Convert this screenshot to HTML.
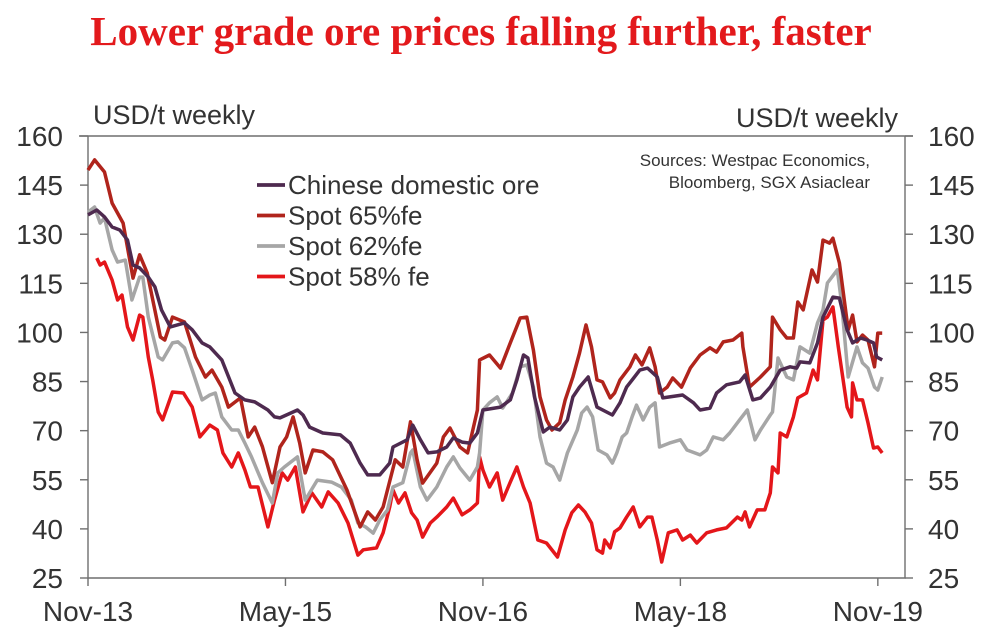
<!DOCTYPE html>
<html><head><meta charset="utf-8"><style>
html,body{margin:0;padding:0;background:#fff;}
svg{display:block;font-family:"Liberation Sans",Arial,sans-serif;}
</style></head><body>
<svg id="chart" width="982" height="644" viewBox="0 0 982 644">
<text x="481" y="45" text-anchor="middle" font-family="Liberation Serif,serif" font-weight="bold" font-size="41" fill="#E3191C">Lower grade ore prices falling further, faster</text>
<text x="93" y="124" font-size="27" fill="#333">USD/t weekly</text>
<text x="898" y="127" text-anchor="end" font-size="27" fill="#333">USD/t weekly</text>
<text x="870" y="166" text-anchor="end" font-size="17" fill="#333">Sources: Westpac Economics,</text>
<text x="870" y="188" text-anchor="end" font-size="17" fill="#333">Bloomberg, SGX Asiaclear</text>
<g id="axes"></g>
<g id="series"></g>
<g id="legend"></g>
</svg>
<script>
const yTicks=[160,145,130,115,100,85,70,55,40,25];
const xTickMonths=[0,18,36,54,72];
const xTickLabels=["Nov-13","May-15","Nov-16","May-18","Nov-19"];
const seriesNames=["Chinese domestic ore","Spot 65%fe","Spot 62%fe","Spot 58% fe"];
const seriesColors=["#4E2A4F","#B0241C","#A6A6A6","#E4161A"];
// months since Nov-13
const chineseMonths=[0,.8,1.5,2.2,2.9,3.6,4.1,4.7,5.5,6.1,6.7,7.5,8.8,9.5,10.4,11.1,12.2,13.4,14.3,15.2,16.4,17.0,17.5,19.1,19.6,20.2,21.4,23.0,23.9,24.8,25.5,26.6,27.5,27.8,29.1,29.6,30.3,31.0,31.8,32.7,33.3,34.1,34.8,35.5,36.0,37.6,38.5,39.1,39.7,40.1,40.7,41.5,42.1,43.0,43.7,44.2,44.8,45.6,46.4,47.8,48.5,49.1,50.3,51.0,51.9,52.4,54.2,55.2,55.8,56.7,57.3,58.2,59.4,59.9,60.6,61.3,62.2,63.1,64.0,64.6,64.9,65.8,66.5,67.0,67.9,68.5,69.2,69.7,70.4,71.0,71.6,71.9,72.4];
const chineseValues=[135.9,137.4,135.3,132.2,131.3,128.2,120.6,119.7,116.9,113.9,106.9,101.7,102.9,100.8,96.8,95.6,91.6,81.5,79.4,78.8,76.3,74.2,73.9,76.3,74.8,71.1,69.3,68.7,66.2,60.1,56.5,56.5,60.1,65,67.2,71.7,67.2,63.2,63.5,65,67.8,66.5,66.2,69.3,76.3,77.2,79.4,85.5,93.1,92.2,80.3,69.6,71.1,70.2,73.3,80.3,83.3,86.4,77.2,74.8,78.5,83.3,88.5,89.1,86.4,80,80.9,78.5,76.3,76.9,81.5,84,84.9,87,79.4,80,83.3,88.5,89.5,89.1,91,90.7,96.8,104.7,110.8,110.5,100.8,96.8,98.3,97.7,96.8,92.5,91.6];
const spot65Months=[0,.6,1.5,2.2,3.2,4.1,4.7,5.4,6.6,7.0,7.7,8.8,9.8,10.7,11.3,12.2,12.8,13.9,14.6,15.2,15.9,16.8,17.5,18.1,18.7,19.3,19.8,20.5,21.4,22.3,23.6,24.8,25.5,26.2,26.9,28.0,28.7,29.4,30.0,30.5,31.8,32.4,33.0,33.9,34.6,35.5,35.7,36.6,37.6,38.5,39.4,40.0,40.6,41.2,41.8,42.3,43.0,43.5,44.2,44.8,45.4,45.9,46.4,46.9,47.6,48.0,48.5,49.4,49.9,50.5,51.2,51.7,52.1,52.8,53.3,54.1,54.9,55.8,56.7,57.3,57.9,58.8,59.6,59.7,60.3,61.3,62.2,62.4,63.1,63.7,64.3,64.7,65.2,66.0,66.5,67.0,67.6,67.9,68.5,69.3,69.7,70.1,70.6,71.1,71.7,72.0,72.4];
const spot65Values=[149.6,152.7,149,139.5,133.4,116.6,123.7,118.2,98.6,97.7,104.7,103.2,92.5,86.4,88.5,83.3,77.2,80,68.1,71.1,65.1,54.1,65,68.1,74.2,66.2,57.1,64.1,63.5,61.1,51.9,40.6,45.2,42.7,46.7,61.1,58.9,72.7,61.1,54,60.1,68.1,70.8,65,63.2,76.3,91.6,93.1,89.1,96.8,104.4,104.7,94.6,80.3,73.3,70.2,72.4,79.4,86.4,93.7,102.3,95.6,85.5,84.9,80,81.5,85.5,89.5,93.1,90.1,95.3,89.5,81.5,83.3,86.1,83.3,89.1,93.1,95.3,94,97.1,97.7,99.8,95.6,83.3,86.4,89.5,104.7,100.8,98.3,98.3,109.3,106.9,119.1,115.4,128.2,127.3,128.8,121.2,100.8,105.3,97.1,99.2,97.7,89.5,99.8,99.8];
const spot62Months=[0,.6,1.1,1.5,2.2,2.7,3.4,4.0,4.7,5.0,5.5,6.4,6.8,7.7,8.2,8.8,9.5,10.4,11.1,11.6,12.2,13.1,13.7,14.3,14.9,15.9,16.8,17.3,17.9,19.1,19.8,20.9,22.2,23.1,24.0,24.6,25.3,26.0,26.6,27.3,27.8,28.7,29.4,29.6,30.3,30.9,31.8,32.7,33.3,33.9,34.8,35.5,35.7,36.0,36.6,37.3,37.8,38.7,39.4,40.0,40.6,41.2,41.8,42.4,43.0,43.7,44.6,45.0,45.5,46.0,46.5,47.3,47.8,48.2,48.7,49.1,49.6,50.0,50.6,51.2,51.7,52.1,53.0,54.0,54.6,55.8,56.4,57.0,57.9,58.5,59.4,60.1,60.8,61.3,62.2,62.4,62.9,63.7,64.3,64.9,65.8,66.5,67.0,67.4,68.3,68.7,69.3,70.1,70.6,71.1,71.7,72.0,72.4];
const spot62Values=[136.8,138.3,133.4,135,125.2,121.5,122.1,109.9,116.9,116.9,104.7,92.5,91.6,96.8,97.1,95.3,88.5,79.4,80.9,81.5,74.2,70.2,70.2,66.2,62,54.1,47.9,57.1,58.9,62,48.8,54.9,54.3,52.8,48.8,41.8,40.6,38.7,42.7,45.8,52.8,54.1,63.2,64.1,52.8,48.8,52.8,58.9,62,58.6,54.9,58.9,63.2,76.3,78.5,80.3,76.9,81.5,89.5,90.1,83.3,68.1,60.1,58.9,54.9,63.2,70.2,75.4,77.2,74.2,64.1,62.6,60.1,63.2,68.1,69.3,74.2,77.8,73.3,77.2,78.5,65,66.2,67.2,64.1,62.6,64.1,68.1,67.2,69.3,73.3,76.3,67.2,70.2,74.8,75.7,92.2,86.4,85.5,95.6,93.7,102.9,106.9,115.1,119.1,109,86.4,95.6,90.7,89.1,83.3,82.4,86.4];
const spot58Months=[.8,1.1,1.5,2.2,2.7,3.1,3.6,4.1,4.7,5.0,5.5,5.9,6.4,6.8,7.7,8.7,9.5,10.2,11.1,11.8,12.3,13.1,13.7,14.3,14.8,15.5,16.4,17.0,17.7,18.2,18.9,19.6,20.4,21.3,21.9,22.8,23.7,24.6,25.1,26.3,26.9,27.5,27.8,28.3,28.9,29.5,30.0,30.5,31.2,31.8,32.7,33.3,34.1,34.8,35.5,35.7,36.0,36.6,37.3,37.8,38.5,39.1,39.7,40.3,41.0,41.8,42.8,43.5,44.1,44.7,45.3,45.9,46.4,46.9,47.1,47.6,48.0,48.5,49.1,49.7,50.3,51.0,51.4,51.9,52.3,52.9,53.7,54.2,54.9,55.5,56.4,57.3,58.2,59.2,59.6,59.9,60.3,61.0,61.7,62.2,62.4,62.9,63.1,63.7,64.3,64.7,65.5,66.1,66.5,67.0,67.4,67.9,68.4,69.2,69.6,69.7,70.1,70.6,71.1,71.6,72.0,72.4];
const spot58Values=[122.7,120.6,121.5,116,109.9,111.4,101.7,97.7,105.3,104.7,92.5,85.5,75.7,73.3,81.8,81.5,77.2,68.1,71.7,70.2,63.2,58.9,63.2,58,52.8,52.8,40.6,48.8,57.1,54.9,58.9,45.2,51,46.7,51.3,47.9,41.8,32,33.6,34.2,38.8,46.7,51.9,47.9,51,44.9,42.7,37.5,41.8,43.6,46.7,49.4,44.3,45.8,47.9,62,58,52.8,57.1,48.8,54.3,58.9,52.8,47.9,36.6,35.7,31.4,39.7,44.9,47.3,45.2,41.8,33.6,32.6,36.6,34.2,39.1,40.3,43.6,46.7,40.6,43.6,43.6,36.6,29.9,38.8,39.7,36.6,38.1,35.7,38.8,39.7,40.3,43.6,42.7,45.2,40.6,45.8,45.8,51,58.9,57.1,69.3,68.1,74.2,80,81.5,88.5,85.5,103.8,104.7,107.8,95.6,77.2,74.2,84.6,79.4,79.4,72.4,64.7,65,63.2];

const NS="http://www.w3.org/2000/svg";
const X0=88,X1=905,Y0=136,Y1=578,VMIN=25,VMAX=160,MPX=10.97;
const xs=m=>X0+m*MPX;
const ys=v=>Y1-(v-VMIN)/(VMAX-VMIN)*(Y1-Y0);
function mk(tag,attrs,parent){const e=document.createElementNS(NS,tag);for(const k in attrs)e.setAttribute(k,attrs[k]);parent.appendChild(e);return e;}
const axes=document.getElementById('axes');
const a1=mk('path',{d:`M${X0},${Y0}V${Y1}H${X1}V${Y0}M79,${Y0}H913`,stroke:'#6f6f6f','stroke-width':1.4,fill:'none'},axes);


yTicks.forEach(v=>{
  const y=ys(v);
  mk('line',{x1:80,x2:X0,y1:y,y2:y,stroke:'#6f6f6f','stroke-width':1.4},axes);
  mk('line',{x1:X1,x2:913,y1:y,y2:y,stroke:'#6f6f6f','stroke-width':1.4},axes);
  const tl=mk('text',{x:63,y:y+10,'text-anchor':'end','font-size':28,fill:'#333'},axes);
  tl.textContent=v;
  
  
  const tr=mk('text',{x:928,y:y+10,'font-size':28,fill:'#333'},axes);
  tr.textContent=v;
  
  
});
xTickMonths.forEach((m,i)=>{
  const x=xs(m);
  mk('line',{x1:x,x2:x,y1:Y1,y2:Y1+8,stroke:'#6f6f6f','stroke-width':1.4},axes);
  const t=mk('text',{x:x,y:621,'text-anchor':'middle','font-size':28,fill:'#333'},axes);
  t.textContent=xTickLabels[i];
  
  
});
const sg=document.getElementById('series');
const allM=[chineseMonths,spot65Months,spot62Months,spot58Months];
const allV=[chineseValues,spot65Values,spot62Values,spot58Values];
const order=[3,2,1,0];
const keys=['chinese-domestic-ore-line','spot-65fe-line','spot-62fe-line','spot-58fe-line'];
order.forEach(i=>{
  const d=allM[i].map((m,j)=>(j?'L':'M')+xs(m).toFixed(1)+','+ys(allV[i][j]).toFixed(1)).join('');
  const p=mk('path',{d:d,stroke:seriesColors[i],'stroke-width':3.5,fill:'none','stroke-linejoin':'round'},sg);
  
  
});
const lg=document.getElementById('legend');
seriesNames.forEach((n,i)=>{
  const y=185+i*30.5;
  const g=mk('g',{},lg);
  
  
  mk('line',{x1:257,x2:285,y1:y,y2:y,stroke:seriesColors[i],'stroke-width':3.8},g);
  const t=mk('text',{x:288,y:y+9,'font-size':26,fill:'#333'},g);
  t.textContent=n;
});
</script>
</body></html>
